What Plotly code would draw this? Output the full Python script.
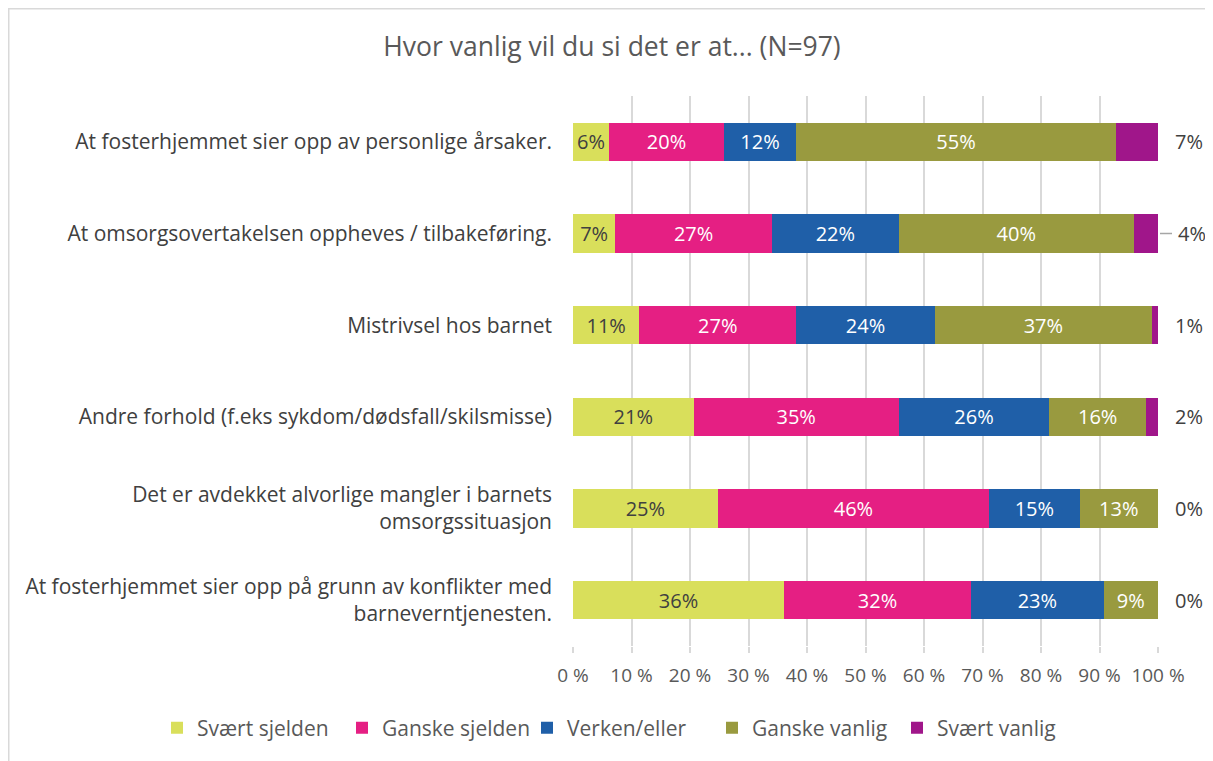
import plotly.graph_objects as go

categories = [
    "At fosterhjemmet sier opp av personlige årsaker.",
    "At omsorgsovertakelsen oppheves / tilbakeføring.",
    "Mistrivsel hos barnet",
    "Andre forhold (f.eks sykdom/dødsfall/skilsmisse)",
    "Det er avdekket alvorlige mangler i barnets<br>omsorgssituasjon",
    "At fosterhjemmet sier opp på grunn av konflikter med<br>barneverntjenesten.",
]
series_names = ["Svært sjelden", "Ganske sjelden", "Verken/eller", "Ganske vanlig", "Svært vanlig"]
svaert_sjelden = [6.19, 7.22, 11.34, 20.62, 24.74, 36.08]
ganske_sjelden = [19.59, 26.80, 26.80, 35.05, 46.39, 31.96]
verken_eller = [12.37, 21.65, 23.71, 25.77, 15.46, 22.68]
ganske_vanlig = [54.64, 40.21, 37.11, 16.49, 13.40, 9.28]
svaert_vanlig = [7.22, 4.12, 1.03, 2.06, 0.0, 0.0]
tick_vals = [0, 10, 20, 30, 40, 50, 60, 70, 80, 90, 100]
tick_text = ["0 %", "10 %", "20 %", "30 %", "40 %", "50 %", "60 %", "70 %", "80 %", "90 %", "100 %"]
title = "Hvor vanlig vil du si det er at... (N=97)"

colors = ["#D9DF5B", "#E51F83", "#1F5FA8", "#999A3F", "#A0168A"]
text_colors = ["#404040", "white", "white", "white", "white"]
FONT = "Open Sans"

fig = go.Figure()
all_series = [svaert_sjelden, ganske_sjelden, verken_eller, ganske_vanlig, svaert_vanlig]
for i, (name, vals) in enumerate(zip(series_names, all_series)):
    inside = i < 4
    fig.add_trace(go.Bar(
        y=categories, x=vals, name=name, orientation="h",
        marker=dict(color=colors[i], line=dict(width=0)),
        text=[f"{v:.0f}%" for v in vals] if inside else None,
        texttemplate="%{text}" if inside else None,
        textposition="inside" if inside else "none",
        insidetextanchor="middle",
        textangle=0,
        insidetextfont=dict(family=FONT, size=20, color=text_colors[i]),
        hoverinfo="skip",
    ))

OFF = 8  # page body margin
W, H = 1213 - OFF, 761 - OFF
L, R, T, B = 573 - OFF, 55, 96 - OFF, 115
pw, ph = W - L - R, H - T - B

# outside labels for the last series (placed at the end of the 100 % stack)
n = len(categories)
for j, (cat, v) in enumerate(zip(categories, svaert_vanlig)):
    fig.add_annotation(x=100, y=cat, xref="x", yref="y", text=f"{v:.0f}%",
                       showarrow=False, xanchor="center", xshift=34 if j == 1 else 31,
                       font=dict(family=FONT, size=20, color="#404040"))
    if j == 1:
        yp = 1 - (j + 0.5) / n
        fig.add_shape(type="line", xref="paper", yref="paper",
                      x0=1 + 2 / pw, x1=1 + 14 / pw, y0=yp, y1=yp,
                      line=dict(color="#A6A6A6", width=1.5))

# light frame (left and top edges)
x0 = (0.5 - L) / pw
x1 = (W + 5 - L) / pw
y1 = (H - B - 0.5) / ph
y0 = (-(B + 5)) / ph
fig.add_shape(type="rect", xref="paper", yref="paper", x0=x0, x1=x1, y0=y0, y1=y1,
              line=dict(color="#D9D9D9", width=2), fillcolor="rgba(0,0,0,0)", layer="below")

fig.update_layout(
    width=W, height=H,
    barmode="stack", bargap=0.58,
    plot_bgcolor="white", paper_bgcolor="white",
    margin=dict(l=L, r=R, t=T, b=B, autoexpand=False),
    title=dict(text=title, x=(612 - OFF) / W, xanchor="center", y=1 - (47 - OFF) / H, yanchor="middle",
               font=dict(family=FONT, size=26.5, color="#595959")),
    font=dict(family=FONT, color="#595959"),
    xaxis=dict(range=[0, 100], tickvals=tick_vals, ticktext=tick_text,
               showgrid=True, gridcolor="#D9D9D9", gridwidth=2,
               zeroline=False, showline=False,
               ticks="outside", ticklen=6, tickcolor="#D9D9D9", tickwidth=2,
               tickfont=dict(family=FONT, size=19, color="#595959"), ticklabelstandoff=6),
    yaxis=dict(autorange="reversed", showgrid=False, showline=False, ticks="",
               tickfont=dict(family=FONT, size=21, color="#404040"), ticklabelstandoff=20),
    legend=dict(orientation="h", xref="paper", x=(157 - OFF - L) / pw, xanchor="left",
                yref="paper", y=-(728 - OFF - (T + ph)) / ph, yanchor="middle",
                font=dict(family=FONT, size=21, color="#595959"),
                itemwidth=30, entrywidth=140, entrywidthmode="pixels", traceorder="normal"),
)

fig.write_html("out.html")
